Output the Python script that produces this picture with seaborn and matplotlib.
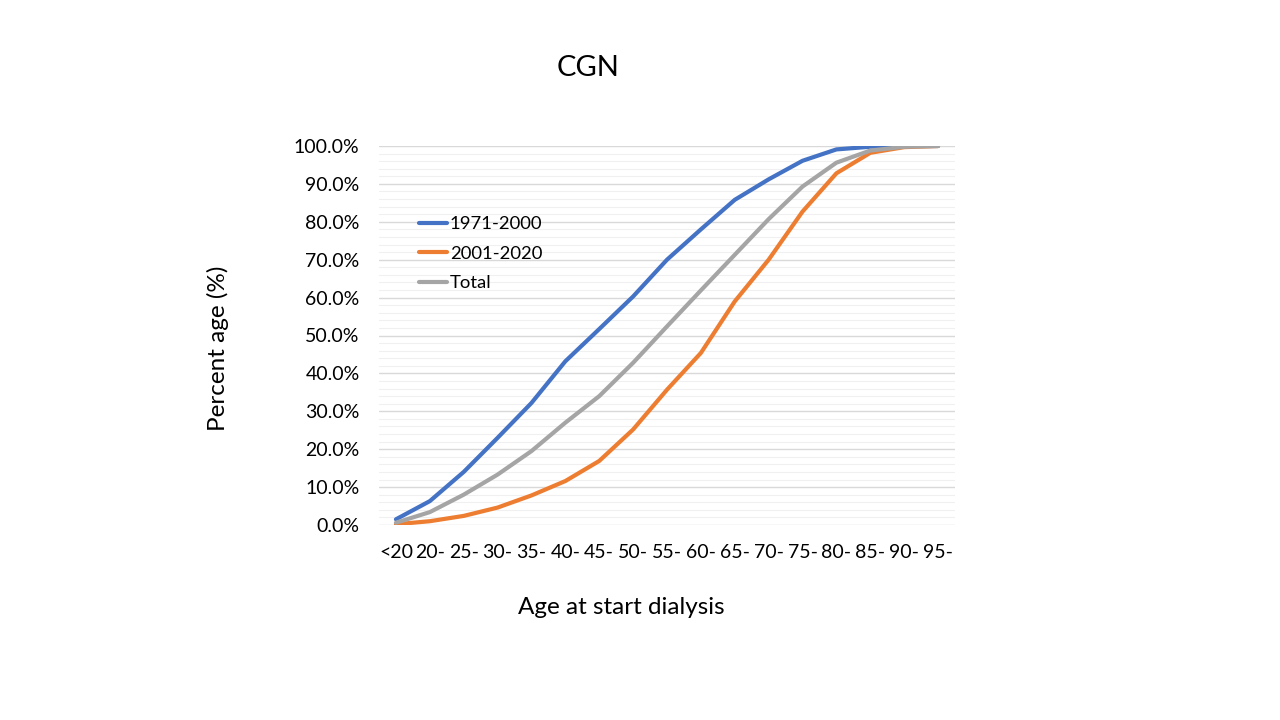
import numpy as np
import pandas as pd
import matplotlib
matplotlib.use("Agg")
import matplotlib.pyplot as plt
import seaborn as sns
from matplotlib.ticker import MultipleLocator, PercentFormatter

categories = ["<20", "20-", "25-", "30-", "35-", "40-", "45-", "50-", "55-",
              "60-", "65-", "70-", "75-", "80-", "85-", "90-", "95-"]
s1971 = [1.5, 6.3, 14.0, 23.0, 32.2, 43.2, 51.7, 60.3, 70.0,
         78.0, 85.8, 91.2, 96.1, 99.1, 99.8, 100.0, 100.0]
s2001 = [0.2, 1.0, 2.4, 4.6, 7.8, 11.6, 16.9, 25.2, 35.7,
         45.4, 59.0, 70.0, 82.7, 92.8, 98.2, 99.7, 100.0]
total = [0.6, 3.4, 8.0, 13.3, 19.5, 27.0, 34.0, 42.8, 52.4,
         61.9, 71.3, 80.7, 89.3, 95.6, 98.8, 99.8, 100.0]
series_names = ["1971-2000", "2001-2020", "Total"]
colors = ["#4472C4", "#ED7D31", "#A5A5A5"]

rows = []
for name, vals in zip(series_names, [s1971, s2001, total]):
    for c, v in zip(categories, vals):
        rows.append({"age": c, "value": v, "series": name})
df = pd.DataFrame(rows)

sns.set_style("white")
plt.rcParams["font.family"] = ["Lato", "DejaVu Sans"]
plt.rcParams["text.color"] = "black"

fig = plt.figure(figsize=(12.8, 7.2), dpi=100)
ax = fig.add_axes([379/1280, (720-525)/720, 576/1280, 379/720])

sns.lineplot(data=df, x="age", y="value", hue="series", palette=colors,
             linewidth=3, ax=ax, sort=False, legend=True)

ax.set_xlim(-0.5, len(categories) - 0.5)
ax.set_ylim(0, 100)
ax.yaxis.set_major_locator(MultipleLocator(10))
ax.yaxis.set_minor_locator(MultipleLocator(2))
ax.yaxis.set_major_formatter(PercentFormatter(decimals=1))
ax.grid(axis="y", which="major", color="#D9D9D9", linewidth=1)
ax.grid(axis="y", which="minor", color="#F0F0F0", linewidth=0.8)
ax.grid(axis="x", visible=False)
ax.set_axisbelow(True)
for sp in ax.spines.values():
    sp.set_visible(False)
ax.tick_params(axis="both", which="both", length=0, labelsize=14,
               colors="black", labelcolor="black")
ax.tick_params(axis="x", pad=14)
ax.tick_params(axis="y", pad=14)

ax.set_xlabel("")
ax.set_ylabel("")
fig.text(621/1280, 1 - 607/720, "Age at start dialysis", ha="center",
         va="center", fontsize=17.5, color="black")
fig.text(218/1280, 1 - 348/720, "Percent age (%)", ha="center",
         va="center", fontsize=17.5, rotation=90, color="black")

handles, labels = ax.get_legend_handles_labels()
ax.legend(handles, labels, loc="upper left", bbox_to_anchor=(0.041, 0.858),
          frameon=False, fontsize=13.3, handlelength=1.5, handletextpad=0.15,
          labelspacing=0.72)

fig.text(588/1280, 1 - 68/720, "CGN", ha="center", va="center", fontsize=21,
         color="black")

fig.savefig("out.png", dpi=100, facecolor="white")
